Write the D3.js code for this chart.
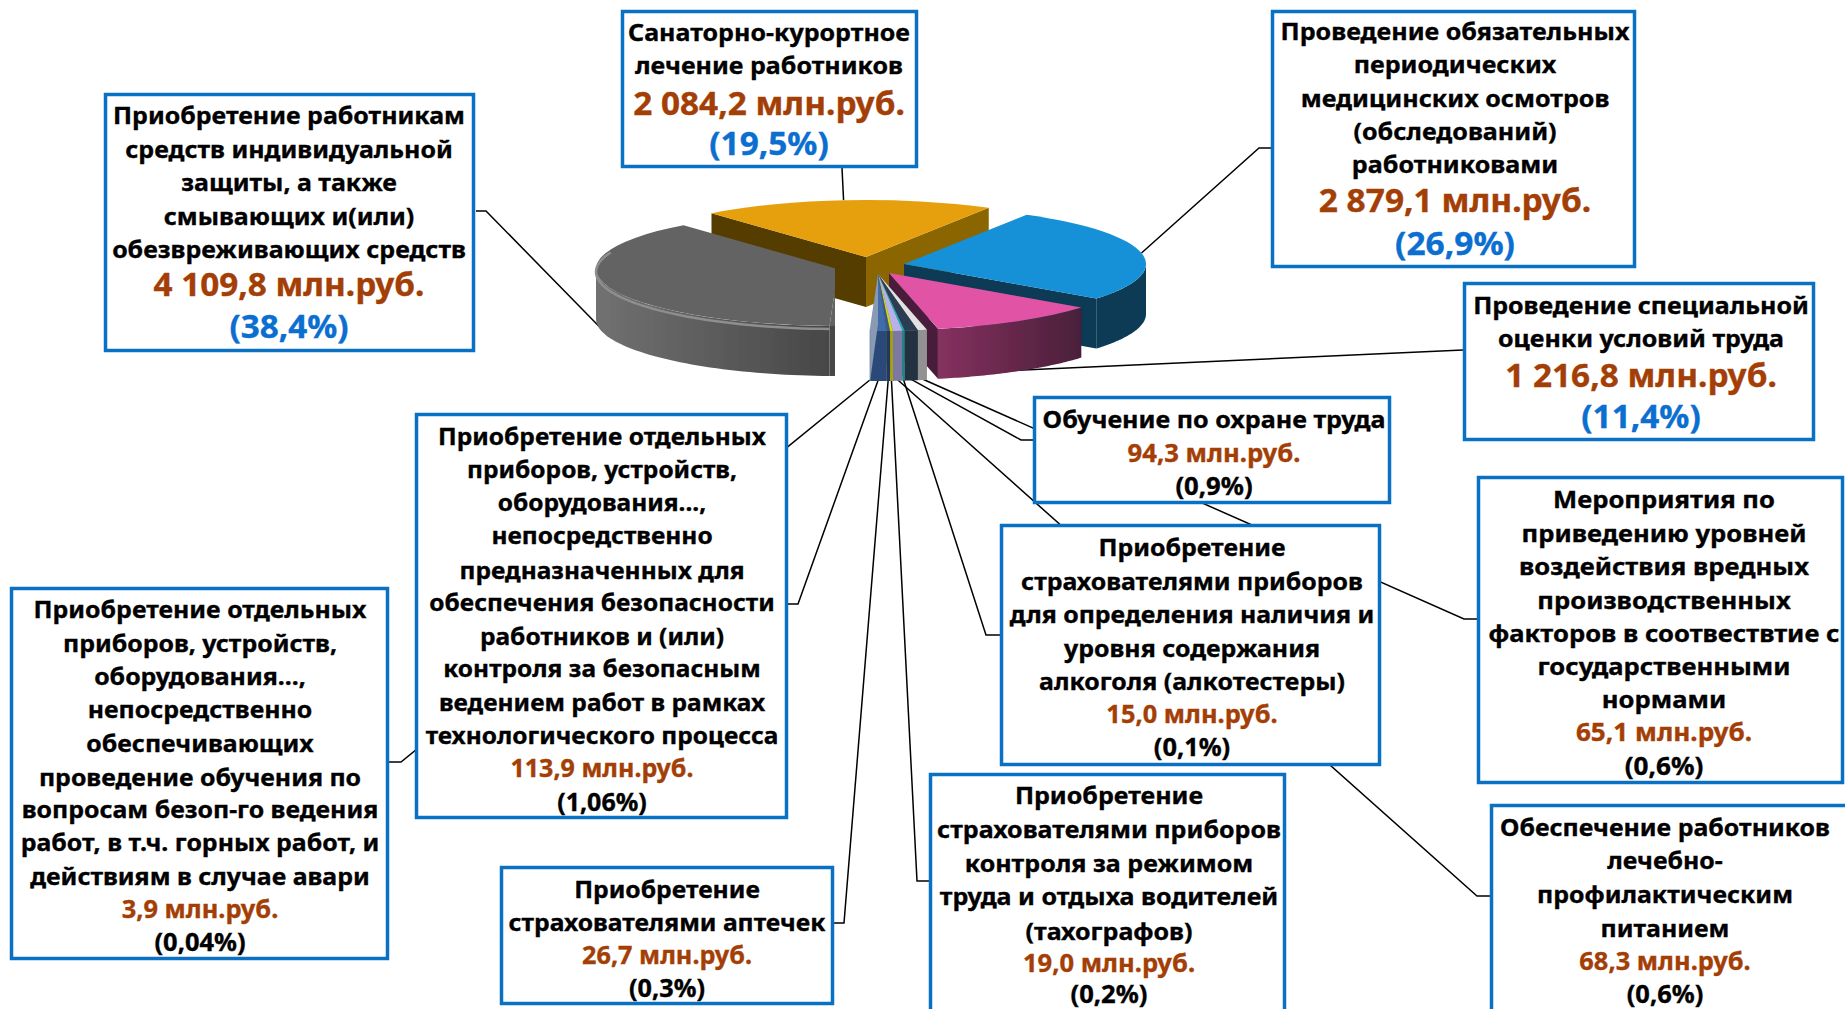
<!DOCTYPE html>
<html lang="ru"><head><meta charset="utf-8">
<script src="https://cdn.jsdelivr.net/npm/d3@7"></script>
<style>html,body{margin:0;padding:0;background:#fff;overflow:hidden}svg{display:block}text{font-family:"Noto Sans","Open Sans",sans-serif;font-weight:700;stroke-width:.35px}</style>
</head><body><svg id="c" width="1845" height="1009"></svg>
<script>
// ---- data, in pie order (clockwise) ----
const categories = ["СИЗ","Санаторно-курортное лечение","Медицинские осмотры","Специальная оценка","Мероприятия по приведению уровней","Обучение по охране труда","Алкотестеры","Лечебно-профилактическое питание","Тахографы","Аптечки","Приборы безопасности","Приборы для обучения"];
const values = [4109.8,2084.2,2879.1,1216.8,65.1,94.3,15.0,68.3,19.0,26.7,113.9,3.9];
const valueLabels = ["4 109,8 млн.руб.","2 084,2 млн.руб.","2 879,1 млн.руб.","1 216,8 млн.руб.","65,1 млн.руб.","94,3 млн.руб.","15,0 млн.руб.","68,3 млн.руб.","19,0 млн.руб.","26,7 млн.руб.","113,9 млн.руб.","3,9 млн.руб."];
const percentLabels = ["(38,4%)","(19,5%)","(26,9%)","(11,4%)","(0,6%)","(0,9%)","(0,1%)","(0,6%)","(0,2%)","(0,3%)","(1,06%)","(0,04%)"];
const labelLines = [
 ["Приобретение работникам","средств индивидуальной","защиты, а также","смывающих и(или)","обезвреживающих средств"],
 ["Санаторно-курортное","лечение работников"],
 ["Проведение обязательных","периодических","медицинских осмотров","(обследований)","работниковами"],
 ["Проведение специальной","оценки условий труда"],
 ["Мероприятия по","приведению уровней","воздействия вредных","производственных","факторов в соотвествтие с","государственными","нормами"],
 ["Обучение по охране труда"],
 ["Приобретение","страхователями приборов","для определения наличия и","уровня содержания","алкоголя (алкотестеры)"],
 ["Обеспечение работников","лечебно-","профилактическим","питанием"],
 ["Приобретение","страхователями приборов","контроля за режимом","труда и отдыха водителей","(тахографов)"],
 ["Приобретение","страхователями аптечек"],
 ["Приобретение отдельных","приборов, устройств,","оборудования...,","непосредственно","предназначенных для","обеспечения безопасности","работников и (или)","контроля за безопасным","ведением работ в рамках","технологического процесса"],
 ["Приобретение отдельных","приборов, устройств,","оборудования...,","непосредственно","обеспечивающих","проведение обучения по","вопросам безоп-го ведения","работ, в т.ч. горных работ, и","действиям в случае авари"]
];
// ---- styles ----
const topColors  = ["#636363","#e6a00a","#1490d6","#e052a5","#e2e2e2","#2c3c52","#19b5b5","#b8b0e8","#d8d800","#3a5a8a","#3f6cab","#8a9ab0"];
const sideLeft   = ["#717171","#8b6500","#083a54","#85315f","#929292","#23303f","#0f8a8a","#7d78a0","#a8a500","#20385c","#2a4a78","#8a9ab0"];
const sideRight  = ["#474747","#8b6500","#083a54","#4a1f3a","#929292","#23303f","#0f8a8a","#7d78a0","#a8a500","#20385c","#2a4a78","#8a9ab0"];
const startFace  = ["#4a4a4a","#543c00","#083a54","#4a1f3b","#929292","#23303f","#0f8a8a","#7d78a0","#a8a500","#20385c","#2a4a78","#8a9ab0"];
const endFace    = ["#4a4a4a","#8b6500","#083a54","#4a1f3b","#929292","#23303f","#0f8a8a","#7d78a0","#a8a500","#20385c","#2a4a78","#8a9ab0"];
// ---- layout ----
const RX=242, RY=57, DEPTH=50;
const apex = [[838,269],[866,257],[904,264],[889,273],[878,274],[878,274],[878,274],[878,274],[878,274],[878,274],[878,274],[878,274]];
const boxes = [[104,93,475,352],[621,10,918,168],[1271,10,1636,268],[1463,282,1815,441],[1477,476,1844,784],[1033,396,1391,504],[1000,524,1381,766],[1490,804,1850,1030],[929,773,1286,1030],[500,866,834,1005],[415,413,788,819],[10,587,389,960]];
const textCx = [289,769,1455,1641,1664,1214,1192,1665,1109,667,602,200];
const fitWidth = [354,282,349,336,351,343,365,330,344,317,353,359];
const baselines = [
 [124,158,191,225,258,296,338],[41,74,115,155],[40,73,107,140,173,212,255],[314,347,387,428],
 [508,542,575,609,642,675,708,741,775],[428,462,495],[556,590,623,657,690,723,756],[836,869,903,937,970,1003],
 [804,838,872,905,940,972,1003],[898,931,964,997],[445,478,511,544,579,611,645,677,711,744,777,811],[618,652,685,718,752,786,818,851,885,918,951]];
const leaderEnds = [[[486,211],[476,211]],[[842,168]],[[1259,148],[1271,148]],[[1463,350]],[[1464,619],[1477,619]],[[1021,440],[1033,440]],[[986,635],[1000,635]],[[1477,896],[1490,896]],[[917,881],[929,881]],[[844,923],[834,923]],[[798,604],[788,604]],[[401,762],[389,762]]];
const leaderShift = [0,-3,0,0,0,0,0,0,0,0,0,0];
const drawOrder = [1,2,0,3,4,5,6,7,8,9,10,11];
const BIG=4, GRAY_CUT=835;

const svg=d3.select("#c");
const defs=svg.append("defs");
defs.append("filter").attr("id","soft").append("feGaussianBlur").attr("stdDeviation",0.6);
defs.append("clipPath").attr("id","grayCut").append("rect").attr("x",0).attr("y",0).attr("width",GRAY_CUT).attr("height",1009);
const pie=d3.pie().sort(null).value(d=>d).startAngle(-178*Math.PI/180).endAngle(182*Math.PI/180);
const arcs=pie(values);
const arcGen=d3.arc().innerRadius(0).outerRadius(RX);
const line=d3.line();
const rim=(i,a,dy=0)=>[apex[i][0]+RX*Math.sin(a),apex[i][1]-RY*Math.cos(a)+dy];

// leaders
const gLead=svg.append("g").attr("fill","none").attr("stroke","#000").attr("stroke-width",1.5);
arcs.forEach((d,i)=>{
  const mid=(d.startAngle+d.endAngle)/2;
  const s=rim(i,mid,Math.cos(mid)<0?DEPTH-1:0);
  s[0]+=leaderShift[i];
  gLead.append("path").attr("d",line([s,...leaderEnds[i]]));
});

// pie
const gPie=svg.append("g").attr("filter","url(#soft)");
drawOrder.forEach(i=>{
  const d=arcs[i], g=gPie.append("g"), a0=d.startAngle, a1=d.endAngle;
  if(i===0) g.attr("clip-path","url(#grayCut)");
  const face=(a,col)=>{const p=rim(i,a),q=apex[i];
    g.append("path").attr("fill",col).attr("d",line([q,p,[p[0],p[1]+DEPTH],[q[0],q[1]+DEPTH]])+"Z");};
  if(Math.sin(a1)>0) face(a1,endFace[i]);
  if(Math.sin(a0)<0){
    if(i===0){
      // the grey slice's inner edge reads as a straight vertical cut
      const p=rim(i,a0), q=apex[i];
      g.append("path").attr("fill",topColors[i]).attr("d",line([q,p,[GRAY_CUT,p[1]],[GRAY_CUT,q[1]]])+"Z");
      g.append("path").attr("fill",sideRight[i]).attr("d",line([p,[GRAY_CUT,p[1]],[GRAY_CUT,p[1]+DEPTH],[p[0],p[1]+DEPTH]])+"Z");
    } else face(a0,startFace[i]);
  }
  const PI=Math.PI;
  let lo,hi;
  if(a1>PI/2){lo=Math.max(a0,PI/2);hi=Math.min(a1,3*PI/2);}
  else {lo=Math.max(a0,-3*PI/2);hi=Math.min(a1,-PI/2);}
  if(hi>lo){
    const ts=d3.range(0,1.0001,0.02).map(t=>lo+(hi-lo)*t);
    const up=ts.map(t=>rim(i,t)), dn=ts.map(t=>rim(i,t,DEPTH)).reverse();
    const xs=up.map(p=>p[0]);
    const gid="wall"+i;
    const lg=defs.append("linearGradient").attr("id",gid).attr("gradientUnits","userSpaceOnUse")
      .attr("x1",d3.min(xs)).attr("x2",d3.max(xs)).attr("y1",0).attr("y2",0);
    lg.append("stop").attr("offset",0).attr("stop-color",sideLeft[i]);
    lg.append("stop").attr("offset",1).attr("stop-color",sideRight[i]);
    g.append("path").attr("fill",`url(#${gid})`).attr("d",line([...up,...dn])+"Z");
  }
  g.append("path").attr("fill",topColors[i])
    .attr("transform",`translate(${apex[i][0]},${apex[i][1]}) scale(1,${RY/RX})`)
    .attr("d",arcGen(d));
  if(i===0){
    const ts=d3.range(0,1.0001,0.02).map(t=>a0+(-Math.PI/2-a0+0.35)*t);
    g.append("path").attr("fill","none").attr("stroke","#8e8e8e").attr("stroke-width",2.5)
      .attr("d",line(ts.map(t=>rim(i,t,3))));
  }
});

// boxes + text
const gBox=svg.append("g");
boxes.forEach((b,i)=>{
  const g=gBox.append("g");
  g.append("rect").attr("x",b[0]+1.5).attr("y",b[1]+1.5).attr("width",b[2]-b[0]-3).attr("height",b[3]-b[1]-3)
    .attr("fill","#fff").attr("stroke","#0a70c4").attr("stroke-width",3.5);
  const big=i<BIG, ys=baselines[i], n=labelLines[i].length;
  const put=(t,y,fs,col)=>g.append("text").attr("text-anchor","middle").attr("font-size",fs).attr("fill",col).attr("stroke",col)
      .attr("y",0).text(t).attr("data-y",y);
  const nodes=labelLines[i].map((t,k)=>put(t,ys[k],24,"#000"));
  const w=d3.max(nodes,s=>s.node().getComputedTextLength());
  const sx=fitWidth[i]/w;
  nodes.push(put(valueLabels[i],ys[n],big?32:24.5,"#a33f06"));
  nodes.push(put(percentLabels[i],ys[n+1],big?32:24.5,big?"#0b6fd0":"#000"));
  nodes.forEach(s=>s.attr("transform",`translate(${textCx[i]},${s.attr("data-y")}) scale(${sx},1)`).attr("data-y",null));
});
</script></body></html>
